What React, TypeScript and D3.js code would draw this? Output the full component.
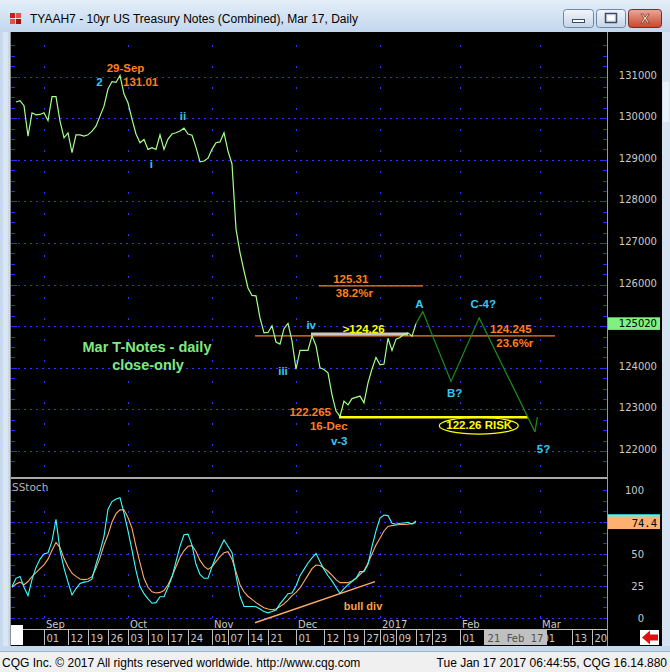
import React from 'react';
import * as d3 from 'd3';

const W = 670;
const H = 672;

// trading calendar (past exchange holidays are skipped, future ones are not)
const CAL_START = '2016-08-22';
const CAL_DAYS = 150;
const PAST_HOLIDAYS = ['2016-09-05', '2016-11-24', '2016-12-26', '2017-01-02', '2017-01-16'];

// daily closes in decimal points, 23-Aug-2016 .. 17-Jan-2017
const CLOSE_START = '2016-08-23';
const closes = [
  130.39, 130.42, 130.30, 129.57, 130.13, 130.08, 130.09, 130.13, 129.94, 130.52,
  130.52, 129.93, 129.53, 129.65, 129.17, 129.60, 129.60, 129.57, 129.60, 129.69,
  129.81, 130.05, 130.29, 130.70, 130.88, 130.86, 131.03, 130.58, 130.37, 129.98,
  129.62, 129.41, 129.49, 129.25, 129.29, 129.25, 129.60, 129.25, 129.50, 129.62,
  129.65, 129.69, 129.76, 129.62, 129.59, 129.30, 128.95, 128.97, 129.04, 129.25,
  129.41, 129.43, 129.65, 129.21, 128.90, 127.34, 126.77, 126.33, 125.92, 125.74,
  125.73, 125.20, 124.84, 124.85, 125.01, 124.62, 124.57, 124.94, 125.07, 124.65,
  123.97, 124.42, 124.42, 124.42, 124.77, 124.53, 124.00, 123.96, 123.88, 123.35,
  122.96, 122.83, 123.20, 123.11, 123.26, 123.29, 123.32, 123.16, 123.64, 123.97,
  124.25, 124.07, 124.09, 124.71, 124.42, 124.69, 124.73, 124.81, 124.84, 124.76,
  125.0625,
];

// slow stochastic, 22-Aug-2016 .. 17-Jan-2017
const STOCH_START = '2016-08-22';
const stochK = [
  24.5, 31, 32.5, 24, 17.5, 30, 39.5, 46, 50, 51,
  60, 77, 53, 39, 28, 18, 23, 27, 28, 28.5,
  30.5, 42, 52, 64, 85, 91, 93, 94, 82, 68,
  53, 37, 24.5, 19, 15, 11.5, 12, 16.6, 16.6, 24,
  32, 44, 56, 65, 65.5, 57, 42, 34, 31, 31,
  40, 48, 54.5, 61, 56, 51, 33, 17, 9, 9,
  9, 8.8, 7, 5, 4, 5, 6.2, 11, 15, 19,
  19.5, 25, 33, 38, 43, 47, 50.5, 44, 38, 33,
  29, 24, 19.3, 23, 26, 28.5, 31, 36.2, 36.2, 42,
  56, 68, 78, 80.5, 80, 74, 73.2, 74, 74.2, 74.7,
  73.3, 75.8,
];
const stochD = [
  24, 26.5, 28, 26, 28.5, 32.3, 35.5, 38.5, 41.5, 46,
  53, 59, 55, 46.6, 40, 35, 32.5, 30.5, 30, 30.5,
  32.3, 39, 47, 57, 65, 75, 81.5, 84.5, 84.5, 78.5,
  70, 56, 43, 31, 24, 20.5, 19.5, 20, 21.5, 26,
  32.5, 40, 47.5, 52.5, 56, 56.5, 52, 45, 40.5, 38,
  40, 44, 48, 51, 51.8, 46, 36, 26, 20.5, 17,
  14.5, 12, 10, 8, 7, 6.5, 7, 9, 11, 14,
  17.5, 20, 23.5, 28.5, 33.5, 38.5, 41.4, 41, 39, 36.5,
  33.5, 30, 27.6, 27.6, 27.6, 29, 31, 34, 37, 43,
  50, 57, 62.3, 68, 71.5, 72.2, 72.7, 73, 73.1, 73.2,
  73.8, 74.4,
];

const priceGrid = [122, 123, 124, 125, 126, 127, 128, 129, 130, 131];
const priceLabels = ['122000', '123000', '124000', '125000', '126000', '127000', '128000', '129000', '130000', '131000'];
const lastPriceLabel = '125020';

const stochGrid = [0, 25, 50, 75];
const stochLabelValues = [0, 25, 50, 100];
const stochLabels = ['0', '25', '50', '100'];
const lastStochLabel = '74.4';

const monthDates = ['2016-09-01', '2016-10-03', '2016-11-01', '2016-12-01', '2017-01-03', '2017-02-01', '2017-03-01'];
const monthLabels = ['Sep', 'Oct', 'Nov', 'Dec', '2017', 'Feb', 'Mar'];
const dayDates = [
  '2016-09-01', '2016-09-12', '2016-09-19', '2016-09-26', '2016-10-03', '2016-10-10', '2016-10-17', '2016-10-24',
  '2016-11-01', '2016-11-07', '2016-11-14', '2016-11-21', '2016-12-01', '2016-12-12', '2016-12-19', '2016-12-27',
  '2017-01-03', '2017-01-09', '2017-01-17', '2017-01-23', '2017-02-01', '2017-03-01', '2017-03-13', '2017-03-20',
];
const dayLabels = ['01', '12', '19', '26', '03', '10', '17', '24', '01', '07', '14', '21', '01', '12', '19', '27', '03', '09', '17', '23', '01', '01', '13', '20'];
const cursorDate = '2017-02-21';
const cursorLabel = '21  Feb  17';

// levels quoted in 32nds
const t32 = (whole: number, n: number) => whole + n / 32;
const fib382 = t32(125, 31);
const fib236 = t32(124, 24.5);
const breakout = t32(124, 26);
const risk = t32(122, 26);

// projected path: last close, A, B?, C-4?, 5?
const projIdx = [101, 102.7, 109.75, 116.8, 130.75];
const projPrice = [125.0625, 125.35, 123.67, 125.2, 122.46];
const projText = ['', 'A', 'B?', 'C-4?', '5?'];

const waveLabels = [
  { text: '2', at: 27, dx: -20.5, dy: 11 },
  { text: 'i', at: 35, dx: -0.7, dy: 20.6 },
  { text: 'ii', at: 43, dx: -1, dy: -8.3 },
  { text: 'iii', at: 71, dx: -13, dy: 6 },
  { text: 'iv', at: 75, dx: -0.8, dy: -6.7 },
  { text: 'v-3', at: 82, dx: -0.8, dy: 28.6 },
];
const pivotLabels = [
  { text: '29-Sep', at: 27, dx: 5.5, dy: -3.3, anchor: 'middle' },
  { text: '131.01', at: 27, dx: 3, dy: 10.7, anchor: 'start' },
  { text: '122.265', at: 82, dx: -9, dy: -0.7, anchor: 'end' },
  { text: '16-Dec', at: 82, dx: -11.2, dy: 13.6, anchor: 'middle' },
];

const ORANGE = '#ff7f1e';
const CYAN = '#35c8f5';
const GRID = '#3030ff';
const ANNOT = '"Liberation Sans", Arial, sans-serif';
const AXIS = '"DejaVu Sans", Verdana, sans-serif';

function tradingDays() {
  const fmt = d3.timeFormat('%Y-%m-%d');
  const out: string[] = [];
  for (let d = d3.timeParse('%Y-%m-%d')(CAL_START)!; out.length < CAL_DAYS; d = d3.timeDay.offset(d, 1)) {
    const wd = d.getDay();
    if (wd === 0 || wd === 6) continue;
    if (PAST_HOLIDAYS.includes(fmt(d))) continue;
    out.push(fmt(d));
  }
  return out;
}

export default function App() {
  const days = tradingDays();
  const idx = (s: string) => days.indexOf(s);

  const x = d3.scaleLinear().domain([0, CAL_DAYS - 1]).range([12, 12 + 4 * (CAL_DAYS - 1)]);
  const y = d3.scaleLinear().domain([122, 131]).range([451, 76.6]);
  const ys = d3.scaleLinear().domain([0, 100]).range([618, 490]);

  const c0 = idx(CLOSE_START);
  const s0 = idx(STOCH_START);
  const closeAt = (i: number) => closes[i - c0];

  const priceLine = d3.line<number>().x((_, k) => x(c0 + k)).y(v => y(v));
  const kLine = d3.line<number>().x((_, k) => x(s0 + k)).y(v => ys(v));
  const projLine = d3.line<number>().x((_, k) => x(projIdx[k])).y(v => y(v));

  const priceTicks = d3.range(121.75, 131.8, 0.25).filter(v => y(v) > 35 && y(v) < 476);
  const stochTicks = d3.range(0, 100.01, 100 / 12);

  // arrow head on the last projected leg
  const n = projIdx.length;
  const tipX = x(projIdx[n - 1]);
  const tipY = y(projPrice[n - 1]);
  const back = Math.atan2(y(projPrice[n - 2]) - tipY, x(projIdx[n - 2]) - tipX);
  const arm = back + (35 * Math.PI) / 180;

  const lastY = y(closes[closes.length - 1]);
  const lastStochY = ys(stochD[stochD.length - 1]);
  const lastKY = ys(stochK[stochK.length - 1]);

  return (
    <svg width={W} height={H} style={{ position: 'absolute', left: 0, top: 0, display: 'block' }}>
      <defs>
        <linearGradient id="titlebar" x1="0" y1="0" x2="0" y2="1">
          <stop offset="0" stopColor="#e4eef9" />
          <stop offset="1" stopColor="#c3d7ed" />
        </linearGradient>
        <linearGradient id="btn" x1="0" y1="0" x2="0" y2="1">
          <stop offset="0" stopColor="#f2f6fb" />
          <stop offset="1" stopColor="#c5d4e6" />
        </linearGradient>
        <linearGradient id="btnClose" x1="0" y1="0" x2="0" y2="1">
          <stop offset="0" stopColor="#e9a99c" />
          <stop offset="1" stopColor="#c8452c" />
        </linearGradient>
        <clipPath id="mainClip"><rect x={12} y={34} width={595} height={443} /></clipPath>
        <clipPath id="stochClip"><rect x={12} y={479} width={595} height={150} /></clipPath>
      </defs>

      {/* window frame */}
      <rect x={0} y={0} width={W} height={H} fill="#c6d9ee" />
      <rect x={0} y={0} width={W} height={32} fill="url(#titlebar)" />
      <rect x={3} y={32} width={5} height={614} fill="#dbe6f3" />
      <rect x={0} y={652} width={W} height={20} fill="#f0f0f0" />
      <line x1={0} x2={W} y1={651.5} y2={651.5} stroke="#9fb5cf" />

      {/* title bar */}
      <g>
        <rect x={10} y={13} width={5} height={5} fill="#d21a1a" />
        <rect x={16} y={13} width={5} height={5} fill="#e85050" />
        <rect x={10} y={19} width={5} height={5} fill="#e85050" />
        <rect x={16} y={19} width={5} height={5} fill="#a80e0e" />
      </g>
      <text x={30} y={23} fontFamily={ANNOT} fontSize={12} fill="#000">
        TYAAH7 - 10yr US Treasury Notes (Combined), Mar 17, Daily
      </text>
      <rect x={563.5} y={9.5} width={30} height={18} rx={3} fill="url(#btn)" stroke="#6e87a6" />
      <rect x={572.5} y={19.5} width={12} height={3} fill="#fff" stroke="#3b4d66" />
      <rect x={596.5} y={9.5} width={29} height={18} rx={3} fill="url(#btn)" stroke="#6e87a6" />
      <rect x={605.5} y={13.5} width={11} height={9} fill="none" stroke="#3b4d66" strokeWidth={1.5} />
      <rect x={607.5} y={15.5} width={7} height={5} fill="#fff" />
      <rect x={628.5} y={9.5} width={33} height={18} rx={3} fill="url(#btnClose)" stroke="#7b2a1f" />
      <text x={645} y={23} textAnchor="middle" fontFamily={ANNOT} fontWeight="bold" fontSize={13} fill="#fff" stroke="#6b1c10" strokeWidth={0.6}>X</text>

      {/* chart area */}
      <rect x={10} y={32} width={652} height={614} fill="#000" />
      <rect x={662} y={32} width={8} height={614} fill="#d4e2f2" />
      <rect x={663} y={82} width={6} height={40} fill="#e9f1fa" />

      {/* grid */}
      <g stroke={GRID} strokeWidth={1} strokeDasharray="2,4">
        {priceGrid.map(p => (
          <line key={`hg${p}`} x1={12} x2={607} y1={Math.round(y(p)) + 0.5} y2={Math.round(y(p)) + 0.5} />
        ))}
        {stochGrid.map(v => (
          <line key={`sg${v}`} x1={12} x2={607} y1={Math.round(ys(v)) + 0.5} y2={Math.round(ys(v)) + 0.5} />
        ))}
      </g>
      <g stroke={GRID} strokeWidth={1} strokeDasharray="2,19">
        {monthDates.map(d => (
          <g key={`vg${d}`}>
            <line x1={x(idx(d)) + 0.5} x2={x(idx(d)) + 0.5} y1={34} y2={477} strokeDashoffset={-11} />
            <line x1={x(idx(d)) + 0.5} x2={x(idx(d)) + 0.5} y1={480} y2={628} strokeDashoffset={-10} />
          </g>
        ))}
      </g>

      {/* axis ticks */}
      <g stroke="#2a2aff">
        {priceTicks.map(v => {
          const yy = Math.round(y(v)) + 0.5;
          const major = Math.abs(v - Math.round(v)) < 1e-6;
          return (
            <g key={`pt${v}`}>
              <line x1={11} x2={major ? 17 : 15} y1={yy} y2={yy} />
              <line x1={major ? 601 : 603} x2={607} y1={yy} y2={yy} />
            </g>
          );
        })}
        {stochTicks.map(v => {
          const yy = Math.round(ys(v)) + 0.5;
          return (
            <g key={`st${v}`}>
              <line x1={11} x2={15} y1={yy} y2={yy} />
              <line x1={603} x2={607} y1={yy} y2={yy} />
            </g>
          );
        })}
      </g>

      {/* panel borders */}
      <line x1={607.5} x2={607.5} y1={32} y2={646} stroke="#9a9a9a" />
      <line x1={10} x2={607} y1={478} y2={478} stroke="#a8a8a8" strokeWidth={2} />
      <line x1={10.5} x2={10.5} y1={32} y2={646} stroke="#8c8c8c" />

      {/* price axis labels */}
      {priceGrid.map((p, k) => (
        <text key={`pl${p}`} x={657} y={y(p) + 2} textAnchor="end" fontFamily={AXIS} fontSize={10} fill="#c8c8c8">
          {priceLabels[k]}
        </text>
      ))}
      <rect x={608} y={lastY - 6.3} width={52} height={12.6} fill="#80f080" />
      <text x={657} y={lastY + 3.8} textAnchor="end" fontFamily={AXIS} fontSize={10} fill="#000">{lastPriceLabel}</text>

      {/* main price panel */}
      <g clipPath="url(#mainClip)">
        {/* fib levels */}
        <line x1={x(76.75)} x2={x(102.75)} y1={y(fib382)} y2={y(fib382)} stroke={ORANGE} strokeWidth={1.3} />
        <line x1={x(60.75)} x2={x(135.75)} y1={y(fib236)} y2={y(fib236)} stroke={ORANGE} strokeWidth={1.3} />
        <line x1={x(74.75)} x2={x(99)} y1={y(breakout)} y2={y(breakout)} stroke="#c8c8c8" strokeWidth={3.2} />
        <line x1={x(81.75)} x2={x(129)} y1={y(risk)} y2={y(risk)} stroke="#ffff00" strokeWidth={2.5} />
        <ellipse cx={x(116.7)} cy={y(risk) + 8.6} rx={39.5} ry={8.3} fill="none" stroke="#ffff00" strokeWidth={1.2} />

        {/* projection */}
        <path d={projLine(projPrice) || ''} fill="none" stroke="#1c8c1c" strokeWidth={1.2} />
        <line x1={tipX} y1={tipY} x2={tipX + 15 * Math.cos(arm)} y2={tipY + 15 * Math.sin(arm)} stroke="#1c8c1c" strokeWidth={1.2} />

        {/* closes */}
        <path d={priceLine(closes) || ''} fill="none" stroke="#a4ff8c" strokeWidth={1.2} />
      </g>

      {/* level labels */}
      <g fontFamily={ANNOT} fontWeight="bold" fontSize={11.5}>
        <text x={x(84.7)} y={y(fib382) - 2.5} textAnchor="middle" fill={ORANGE}>125.31</text>
        <text x={x(85.6)} y={y(fib382) + 11.5} textAnchor="middle" fill={ORANGE}>38.2%r</text>
        <text x={x(124.7)} y={y(fib236) - 2.5} textAnchor="middle" fill={ORANGE}>124.245</text>
        <text x={x(125.7)} y={y(fib236) + 11.5} textAnchor="middle" fill={ORANGE}>23.6%r</text>
        <text x={x(87.9)} y={y(breakout) - 1.5} textAnchor="middle" fill="#ffff00">&gt;124.26</text>
        <text x={x(116.8)} y={y(risk) + 12} textAnchor="middle" fill="#ffff00">122.26 RISK</text>

        {pivotLabels.map(l => (
          <text key={l.text} x={x(l.at) + l.dx} y={y(closeAt(l.at)) + l.dy} textAnchor={l.anchor} fill={ORANGE}>
            {l.text}
          </text>
        ))}
        {waveLabels.map(l => (
          <text key={l.text} x={x(l.at) + l.dx} y={y(closeAt(l.at)) + l.dy} textAnchor="middle" fill={CYAN}>
            {l.text}
          </text>
        ))}
        {projText.map((t, k) => {
          if (!t) return null;
          const off = [[0, 0], [-3.5, -4], [3.7, 15], [4, -10], [8.5, 21.6]][k];
          return (
            <text key={t} x={x(projIdx[k]) + off[0]} y={y(projPrice[k]) + off[1]} textAnchor="middle" fill={CYAN}>
              {t}
            </text>
          );
        })}
      </g>

      <g fontFamily={ANNOT} fontWeight="bold" fontSize={14.5} fill="#82e882" textAnchor="middle">
        <text x={147} y={352}>Mar T-Notes - daily</text>
        <text x={148} y={369.5}>close-only</text>
      </g>

      {/* stochastic panel */}
      <text x={12} y={491} fontFamily={AXIS} fontSize={10.5} fill="#b4b4b4">SStoch</text>
      <g clipPath="url(#stochClip)">
        <path d={kLine(stochD) || ''} fill="none" stroke="#ffab66" strokeWidth={1.1} />
        <path d={kLine(stochK) || ''} fill="none" stroke="#3cffff" strokeWidth={1.1} />
        <line x1={x(60.75)} y1={ys(-3.7)} x2={x(90.75)} y2={ys(28.4)} stroke="#ffab66" strokeWidth={1.5} />
      </g>
      <text x={x(87.75)} y={ys(6.6)} textAnchor="middle" fontFamily={ANNOT} fontWeight="bold" fontSize={11} fill="#f5a250">bull div</text>

      {stochLabelValues.map((v, k) => (
        <text key={`sl${v}`} x={644} y={ys(v) + 4} textAnchor="end" fontFamily={AXIS} fontSize={10} fill="#c8c8c8">
          {stochLabels[k]}
        </text>
      ))}
      <rect x={608} y={Math.min(lastKY, lastStochY - 8.5)} width={52} height={3} fill="#3cffff" />
      <rect x={608} y={lastStochY - 6.3} width={52} height={12.6} fill="#ffb070" />
      <text x={657} y={lastStochY + 3.8} textAnchor="end" fontFamily='"DejaVu Sans Mono", monospace' fontSize={10.5} fill="#000">
        {lastStochLabel}
      </text>

      {/* date axis */}
      <line x1={23} x2={607} y1={629.5} y2={629.5} stroke="#c0c0c0" />
      <rect x={11} y={625} width={12} height={20} fill="#fff" />
      {monthDates.map((d, k) => (
        <text key={`ml${d}`} x={x(idx(d)) + 2} y={627.5} fontFamily={AXIS} fontSize={10} fill="#c8c8c8">
          {monthLabels[k]}
        </text>
      ))}
      {dayDates.map((d, k) => (
        <g key={`dl${d}`}>
          <line x1={x(idx(d)) + 0.5} x2={x(idx(d)) + 0.5} y1={630} y2={645} stroke="#c0c0c0" />
          <text x={x(idx(d)) + 2.5} y={641.5} fontFamily={AXIS} fontSize={10} fill="#c8c8c8">
            {dayLabels[k]}
          </text>
        </g>
      ))}
      <rect x={x(idx(cursorDate)) - 32} y={630} width={63} height={15} fill="#c0c0c0" />
      <text x={x(idx(cursorDate)) - 0.5} y={641.5} textAnchor="middle" fontFamily={AXIS} fontSize={10} fill="#505050" style={{ whiteSpace: 'pre' }}>
        {cursorLabel}
      </text>
      <rect x={640} y={630} width={19} height={15} fill="#fff" />
      <polygon points="642,637.5 650,630.5 650,634.5 658,634.5 658,640.5 650,640.5 650,644.5" fill="#e01010" />

      {/* footer */}
      <text x={2} y={667} fontFamily={ANNOT} fontSize={12} fill="#000">
        CQG Inc. © 2017 All rights reserved worldwide. http://www.cqg.com
      </text>
      <text x={667} y={667} textAnchor="end" fontFamily={ANNOT} fontSize={12} fill="#000">
        Tue Jan 17 2017 06:44:55, CQG 16.14.880
      </text>
    </svg>
  );
}
